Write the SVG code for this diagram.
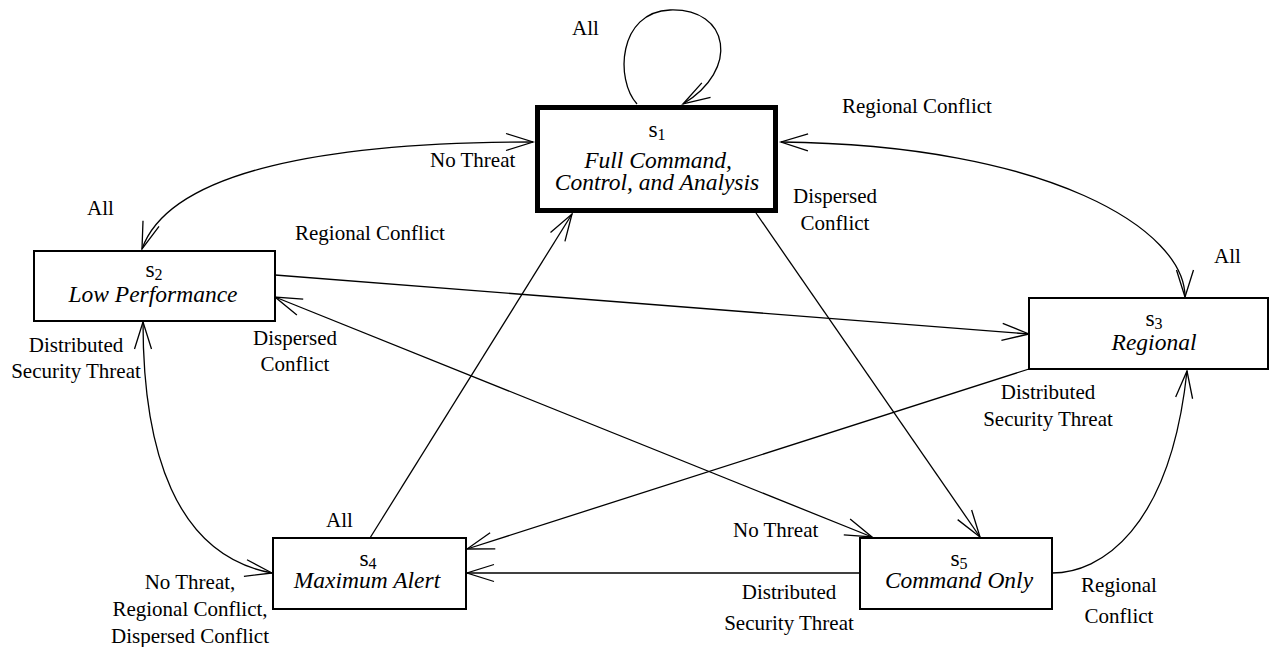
<svg xmlns="http://www.w3.org/2000/svg" width="1270" height="647" viewBox="0 0 1270 647">
<defs>
<marker id="arr" markerUnits="userSpaceOnUse" markerWidth="30" markerHeight="20" viewBox="0 0 30 20" refX="28" refY="10" orient="auto-start-reverse" overflow="visible">
<path d="M1,1.5 L28,10 L1,18.5" fill="none" stroke="#000" stroke-width="1.3"/>
</marker>
<style>
.box{fill:#fff;stroke:#000;stroke-width:2}
.box1{fill:#fff;stroke:#000;stroke-width:5}
.c{fill:none;stroke:#000;stroke-width:1.3}
text{font-family:'Liberation Serif','Times New Roman',Times,serif;fill:#000}
.lbl{font-size:21px}
.nm{font-size:23.5px;text-anchor:middle}
.it{font-style:italic}
.mid{text-anchor:middle}
</style>
</defs>
<rect width="1270" height="647" fill="#fff"/>
<g id="connectors">
<path class="c" d="M637 104 C615 80 618 12 670 10 C730 8 740 70 683 104" marker-end="url(#arr)"/>
<path class="c" d="M533 142 C330 142 170 170 142 249" marker-start="url(#arr)" marker-end="url(#arr)"/>
<path class="c" d="M781 142 C1050 145 1185 230 1185 297" marker-start="url(#arr)" marker-end="url(#arr)"/>
<path class="c" d="M275 275 L1029 334" marker-end="url(#arr)"/>
<path class="c" d="M275 297 L872 537" marker-start="url(#arr)" marker-end="url(#arr)"/>
<path class="c" d="M370 538 L572 214" marker-end="url(#arr)"/>
<path class="c" d="M756 213 L980 537" marker-end="url(#arr)"/>
<path class="c" d="M1029 369 L467 549" marker-end="url(#arr)"/>
<path class="c" d="M862 573 L467 573" marker-end="url(#arr)"/>
<path class="c" d="M1052 573 C1100 573 1170 530 1187 371" marker-end="url(#arr)"/>
<path class="c" d="M143 322 C143 450 175 555 272 573" marker-start="url(#arr)" marker-end="url(#arr)"/>
</g>
<g id="labels" font-family="Liberation Serif, serif">
<text class="lbl" x="572" y="35">All</text>
<text class="lbl" x="430" y="167">No Threat</text>
<text class="lbl" x="87" y="215">All</text>
<text class="lbl" x="295" y="240">Regional Conflict</text>
<text class="lbl" x="842" y="113">Regional Conflict</text>
<text class="lbl mid" x="835" y="203">Dispersed</text>
<text class="lbl mid" x="835" y="230">Conflict</text>
<text class="lbl" x="1214" y="263">All</text>
<text class="lbl mid" x="76" y="352">Distributed</text>
<text class="lbl mid" x="76" y="378">Security Threat</text>
<text class="lbl mid" x="295" y="345">Dispersed</text>
<text class="lbl mid" x="295" y="371">Conflict</text>
<text class="lbl mid" x="1048" y="399">Distributed</text>
<text class="lbl mid" x="1048" y="426">Security Threat</text>
<text class="lbl" x="326" y="527">All</text>
<text class="lbl mid" x="190" y="589">No Threat,</text>
<text class="lbl mid" x="190" y="616">Regional Conflict,</text>
<text class="lbl mid" x="190" y="643">Dispersed Conflict</text>
<text class="lbl" x="733" y="537">No Threat</text>
<text class="lbl mid" x="789" y="599">Distributed</text>
<text class="lbl mid" x="789" y="630">Security Threat</text>
<text class="lbl mid" x="1119" y="592">Regional</text>
<text class="lbl mid" x="1119" y="623">Conflict</text>
</g>
<g id="s1">
<rect class="box1" x="537.5" y="107.5" width="238" height="103"/>
<text class="nm" x="657" y="137">s<tspan font-size="16" dy="3">1</tspan></text>
<text class="nm it" x="658" y="168">Full Command,</text>
<text class="nm it" x="657" y="190">Control, and Analysis</text>
</g>
<g id="s2">
<rect class="box" x="34" y="251" width="241" height="70"/>
<text class="nm" x="154" y="277">s<tspan font-size="16" dy="3">2</tspan></text>
<text class="nm it" x="153" y="302">Low Performance</text>
</g>
<g id="s3">
<rect class="box" x="1029" y="298" width="239" height="71"/>
<text class="nm" x="1154" y="326">s<tspan font-size="16" dy="3">3</tspan></text>
<text class="nm it" x="1154" y="350">Regional</text>
</g>
<g id="s4">
<rect class="box" x="273" y="538" width="193" height="71"/>
<text class="nm" x="368" y="566">s<tspan font-size="16" dy="3">4</tspan></text>
<text class="nm it" x="367" y="588">Maximum Alert</text>
</g>
<g id="s5">
<rect class="box" x="860" y="538" width="192" height="71"/>
<text class="nm" x="959" y="566">s<tspan font-size="16" dy="3">5</tspan></text>
<text class="nm it" x="959" y="588">Command Only</text>
</g>
</svg>
